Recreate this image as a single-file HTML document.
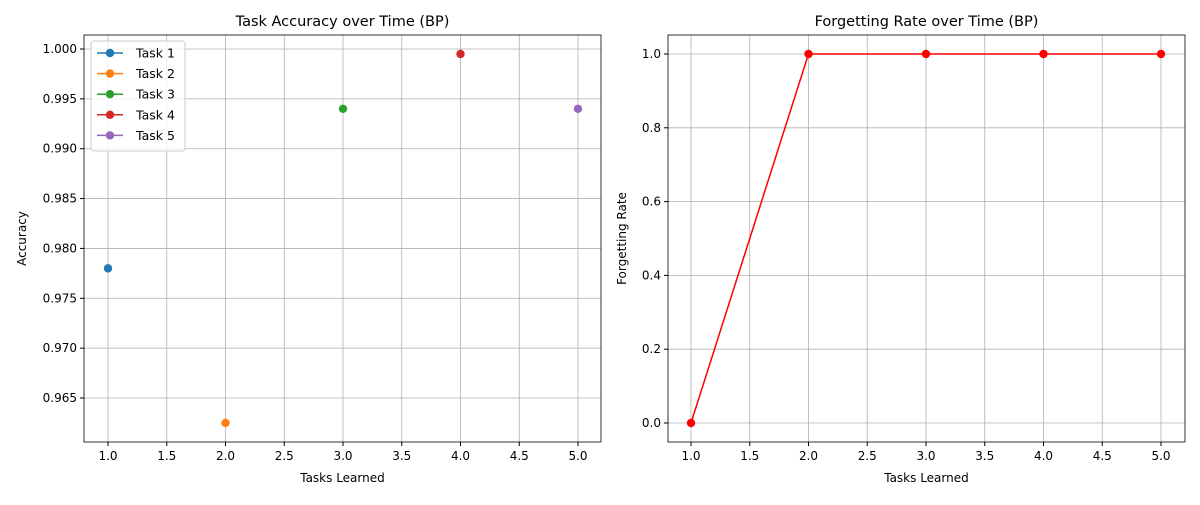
<!DOCTYPE html>
<html><head><meta charset="utf-8"><style>
body{margin:0;background:#fff;font-family:"Liberation Sans","DejaVu Sans",sans-serif;}
svg text{font-family:"DejaVu Sans","Liberation Sans",sans-serif;}
</style></head><body>
<svg id="c" width="1200" height="500" xmlns="http://www.w3.org/2000/svg"></svg>
<script>
const tasks=[1,2,3,4,5];
const taskNames=["Task 1","Task 2","Task 3","Task 4","Task 5"];
const accuracy=[0.978,0.9625,0.994,0.9995,0.994];
const colors=["#1f77b4","#ff7f0e","#2ca02c","#d62728","#9467bd"];
const forgetting=[0,1,1,1,1];
const xTicks=[1.0,1.5,2.0,2.5,3.0,3.5,4.0,4.5,5.0];
const accTicks=[0.965,0.970,0.975,0.980,0.985,0.990,0.995,1.000];
const fTicks=[0.0,0.2,0.4,0.6,0.8,1.0];
const NS="http://www.w3.org/2000/svg";
const svg=document.getElementById('c');
function el(t,a,p){const e=document.createElementNS(NS,t);for(const k in a)e.setAttribute(k,a[k]);(p||svg).appendChild(e);return e;}
const topY=35,botY=442;
function panel(x0,x1,xs,ys,yTicks,fmt,title,ylab,ylabX,name){
  const g=el('g',{});
  
  
  xTicks.forEach(t=>{const x=xs(t);
    el('line',{x1:x,x2:x,y1:topY,y2:botY,stroke:'#b0b0b0','stroke-width':0.8},g);
    el('line',{x1:x,x2:x,y1:botY,y2:botY+4,stroke:'#000'},g);
    const tx=el('text',{x:x,y:botY+18,'font-size':12,'text-anchor':'middle'},g);tx.textContent=t.toFixed(1);
    });
  yTicks.forEach(t=>{const y=ys(t);
    el('line',{x1:x0,x2:x1,y1:y,y2:y,stroke:'#b0b0b0','stroke-width':0.8},g);
    el('line',{x1:x0-4,x2:x0,y1:y,y2:y,stroke:'#000'},g);
    const tx=el('text',{x:x0-7,y:y+4,'font-size':12,'text-anchor':'end'},g);tx.textContent=fmt(t);
    });
  el('rect',{x:x0,y:topY,width:x1-x0,height:botY-topY,fill:'none',stroke:'#000','stroke-width':0.8},g);
  const tt=el('text',{x:(x0+x1)/2,y:26,'font-size':14.5,'text-anchor':'middle'},g);tt.textContent=title;
  
  const xl=el('text',{x:(x0+x1)/2,y:482,'font-size':12,'text-anchor':'middle'},g);xl.textContent='Tasks Learned';
  
  const yl=el('text',{x:ylabX,y:(topY+botY)/2,'font-size':12,'text-anchor':'middle',transform:`rotate(-90 ${ylabX} ${(topY+botY)/2})`},g);yl.textContent=ylab;
  
  return g;
}
const lx=t=>108+(t-1)*117.5;
const ly=v=>49+(1.0-v)/0.005*49.857;
const gl=panel(84,601,lx,ly,accTicks,v=>v.toFixed(3),'Task Accuracy over Time (BP)','Accuracy',26,'accuracy-panel');
tasks.forEach((t,i)=>{const c=el('circle',{cx:lx(t),cy:ly(accuracy[i]),r:4.2,fill:colors[i]},gl);
  });
const lg=el('g',{},gl);

el('rect',{x:91,y:41,width:94,height:110,rx:3,fill:'#fff','fill-opacity':0.8,stroke:'#ccc'},lg);
taskNames.forEach((n,i)=>{const y=53+i*20.6;
  const e=el('g',{},lg);
  el('line',{x1:97,x2:123,y1:y,y2:y,stroke:colors[i],'stroke-width':1.5},e);
  el('circle',{cx:110,cy:y,r:4.2,fill:colors[i]},e);
  const tx=el('text',{x:136,y:y+4.5,'font-size':12.5},e);tx.textContent=n;});
const rx=t=>691+(t-1)*117.5;
const ry=v=>423-v*369;
const gr=panel(668,1185,rx,ry,fTicks,v=>v.toFixed(1),'Forgetting Rate over Time (BP)','Forgetting Rate',626,'forgetting-panel');
const pl=el('polyline',{points:tasks.map((t,i)=>rx(t)+','+ry(forgetting[i])).join(' '),fill:'none',stroke:'#ff0000','stroke-width':1.5},gr);

tasks.forEach((t,i)=>{const c=el('circle',{cx:rx(t),cy:ry(forgetting[i]),r:4.2,fill:'#ff0000'},gr);
  });
</script>
</body></html>
